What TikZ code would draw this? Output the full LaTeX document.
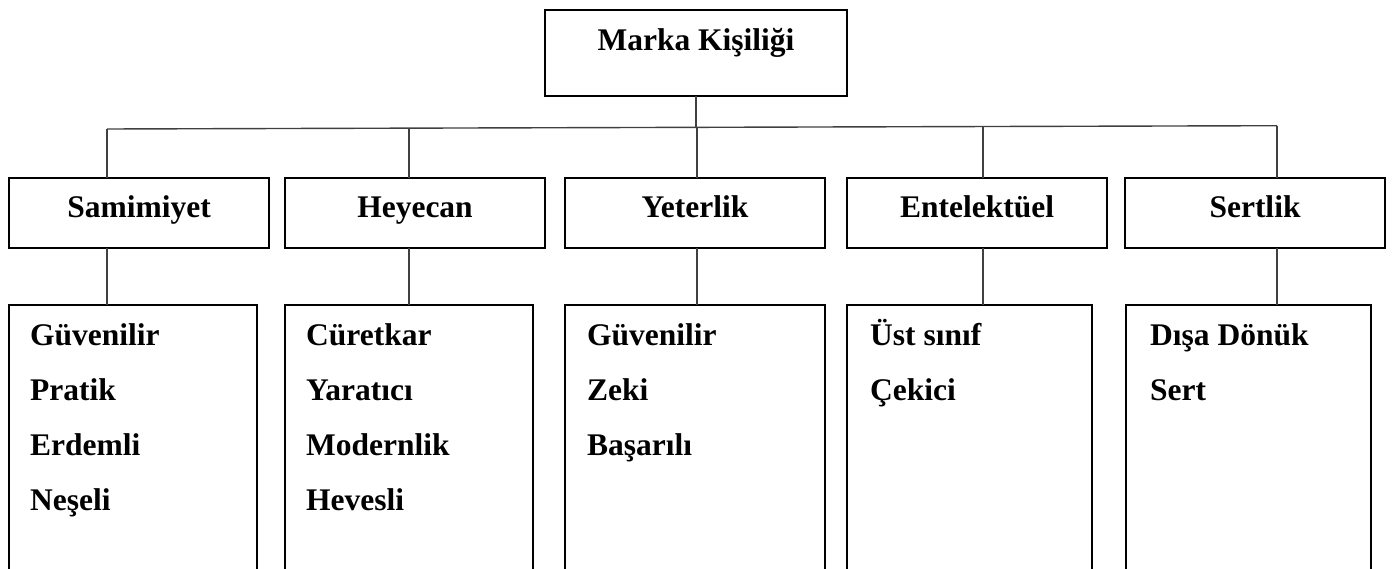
\documentclass[tikz,border=0pt]{standalone}
\usepackage{fontspec}
\setmainfont{Liberation Serif}
\usetikzlibrary{calc}
\begin{document}
\begin{tikzpicture}[x=1pt,y=-1pt,
  box/.style={draw=black, line width=2.4pt, rectangle, inner sep=0pt, outer sep=0pt,
    anchor=north west, font=\bfseries\fontsize{31.5}{36}\selectfont},
  lvltwo/.style={box, minimum width=260pt, minimum height=70pt, text height=21pt, text depth=11pt},
  lvlthree/.style={box, minimum height=400pt},
  conn/.style={draw=black!75, line width=1.4pt},
  item/.style={anchor=base west, inner sep=0pt, font=\bfseries\fontsize{31.5}{36}\selectfont}]
\useasboundingbox (0,0) rectangle (1392,569);
\clip (0,0) rectangle (1392,569);

% root
\node[box, minimum width=302pt, minimum height=86pt, text height=21pt, text depth=25pt] (root) at (545,10) {Marka Kişiliği};

% level 2
\node[lvltwo] (sam) at (9,178) {Samimiyet};
\node[lvltwo] (hey) at (285,178) {Heyecan};
\node[lvltwo] (yet) at (565,178) {Yeterlik};
\node[lvltwo] (ent) at (847,178) {Entelektüel};
\node[lvltwo] (ser) at (1125,178) {Sertlik};

% level 3
\node[lvlthree, minimum width=248pt] (samL) at (9,305) {};
\node[lvlthree, minimum width=248pt] (heyL) at (285,305) {};
\node[lvlthree, minimum width=260pt] (yetL) at (565,305) {};
\node[lvlthree, minimum width=245pt] (entL) at (847,305) {};
\node[lvlthree, minimum width=245pt] (serL) at (1126,305) {};

% connectors
\coordinate (h1) at (107,129);
\coordinate (h2) at (409,128.2);
\coordinate (h3) at (697,127.3);
\coordinate (h4) at (983,126.5);
\coordinate (h5) at (1277,125.7);
\draw[conn] (h1) -- (h5);
\draw[conn] (root.south) -- (root.south |- h3);
\foreach \h/\a/\b in {h1/sam/samL, h2/hey/heyL, h3/yet/yetL, h4/ent/entL, h5/ser/serL}{
  \draw[conn] (\h) -- (\h |- \a.north);
  \draw[conn] (\h |- \a.south) -- (\h |- \b.north);
}

% items
\foreach \t [count=\i] in {Güvenilir, Pratik, Erdemli, Neşeli}
  \node[item] (samI\i) at ($(samL.north west)+(21,{40+55*(\i-1)})$) {\t};
\foreach \t [count=\i] in {Cüretkar, Yaratıcı, Modernlik, Hevesli}
  \node[item] (heyI\i) at ($(heyL.north west)+(21,{40+55*(\i-1)})$) {\t};
\foreach \t [count=\i] in {Güvenilir, Zeki, Başarılı}
  \node[item] (yetI\i) at ($(yetL.north west)+(22,{40+55*(\i-1)})$) {\t};
\foreach \t [count=\i] in {Üst sınıf, Çekici}
  \node[item] (entI\i) at ($(entL.north west)+(23,{40+55*(\i-1)})$) {\t};
\foreach \t [count=\i] in {Dışa Dönük, Sert}
  \node[item] (serI\i) at ($(serL.north west)+(24,{40+55*(\i-1)})$) {\t};
\end{tikzpicture}
\end{document}
